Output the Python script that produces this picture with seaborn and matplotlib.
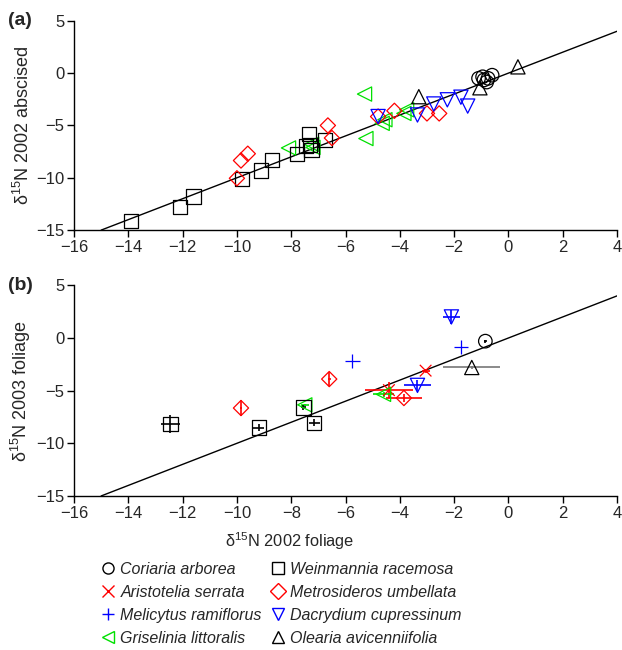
import matplotlib
matplotlib.use("Agg")
import pandas as pd
import matplotlib.pyplot as plt
import seaborn as sns
from matplotlib.lines import Line2D
from matplotlib.markers import MarkerStyle

# species, legend order (column-major, 2 columns)
species = ["Coriaria arborea", "Aristotelia serrata", "Melicytus ramiflorus",
           "Griselinia littoralis", "Weinmannia racemosa",
           "Metrosideros umbellata", "Dacrydium cupressinum",
           "Olearia avicenniifolia"]
markers = ["o", "x", "+", "<", "s", "D", "v", "^"]
colors = ["black", "red", "blue", "#00e000", "black", "red", "blue", "black"]
sizes = [95, 70, 110, 105, 105, 60, 105, 105]
err_colors = ["black", "red", "blue", "#00e000", "black", "red", "blue", "#777777"]

# panel (a): 2002 foliage vs 2002 abscised leaves
abs_species = (["Coriaria arborea"] * 6 + ["Weinmannia racemosa"] * 12
               + ["Metrosideros umbellata"] * 9 + ["Griselinia littoralis"] * 9
               + ["Dacrydium cupressinum"] * 6 + ["Olearia avicenniifolia"] * 3)
abs_foliage = [-1.1, -0.95, -0.9, -0.8, -0.75, -0.6,
               -13.9, -12.1, -11.6, -9.8, -9.1, -8.7, -7.8, -7.35, -7.45, -7.3, -7.25, -6.75,
               -10.0, -9.85, -9.6, -6.65, -6.5, -4.8, -4.2, -3.0, -2.55,
               -8.1, -7.25, -7.2, -5.3, -5.25, -4.65, -4.55, -3.85, -3.75,
               -4.8, -3.35, -2.75, -2.25, -1.75, -1.5,
               -3.3, 0.35, -1.05]
abs_abscised = [-0.5, -0.35, -0.65, -0.85, -0.5, -0.2,
                -14.1, -12.8, -11.8, -10.15, -9.3, -8.3, -7.75, -5.8, -6.95, -6.9, -7.35, -6.4,
                -10.05, -8.35, -7.7, -5.0, -6.2, -4.15, -3.6, -3.85, -3.85,
                -7.15, -6.8, -7.1, -2.0, -6.25, -4.8, -4.45, -3.85, -3.5,
                -4.15, -4.0, -2.95, -2.55, -2.3, -3.15,
                -2.25, 0.6, -1.4]

# panel (b): 2002 foliage vs 2003 foliage (species means with errors)
fol_species = ["Weinmannia racemosa", "Weinmannia racemosa", "Weinmannia racemosa",
               "Weinmannia racemosa", "Griselinia littoralis", "Metrosideros umbellata",
               "Metrosideros umbellata", "Melicytus ramiflorus", "Dacrydium cupressinum",
               "Melicytus ramiflorus", "Coriaria arborea", "Olearia avicenniifolia",
               "Aristotelia serrata", "Aristotelia serrata", "Griselinia littoralis",
               "Metrosideros umbellata", "Dacrydium cupressinum"]
fol_2002 = [-12.45, -9.2, -7.55, -7.15, -7.5, -9.85, -6.6, -5.75, -2.1,
            -1.75, -0.85, -1.35, -3.05, -4.4, -4.6, -3.85, -3.35]
fol_2003 = [-8.2, -8.5, -6.6, -8.05, -6.35, -6.65, -3.9, -2.2, 2.0,
            -0.85, -0.3, -2.8, -3.1, -4.95, -5.35, -5.7, -4.5]
fol_2002_err = [0.35, 0.2, 0.1, 0.2, 0.15, 0.05, 0.05, 0.0, 0.3,
                0.0, 0.05, 1.05, 0.15, 0.9, 0.4, 0.65, 0.5]
fol_2003_err = [0.85, 0.3, 0.2, 0.35, 0.1, 0.75, 0.7, 0.0, 0.7,
                0.0, 0.15, 0.1, 0.2, 0.75, 0.25, 0.35, 0.55]

abscised = pd.DataFrame(dict(species=abs_species, x=abs_foliage, y=abs_abscised))
foliage = pd.DataFrame(dict(species=fol_species, x=fol_2002, y=fol_2003,
                            xerr=fol_2002_err, yerr=fol_2003_err))

sns.set_style("ticks")
plt.rcParams["font.family"] = ["Liberation Sans", "DejaVu Sans"]
plt.rcParams["mathtext.fontset"] = "custom"
plt.rcParams["mathtext.rm"] = "Liberation Sans"
plt.rcParams["font.size"] = 12

fig = plt.figure(figsize=(6.22, 6.5), dpi=100)
ax_a = fig.add_axes([0.119, 0.646, 0.873, 0.322])
ax_b = fig.add_axes([0.119, 0.237, 0.873, 0.324])


def draw(ax, data, errors=False):
    for sp, m, c, s, ec in zip(species, markers, colors, sizes, err_colors):
        sub = data[data.species == sp]
        if sub.empty:
            continue
        if errors:
            ax.errorbar(sub.x, sub.y, xerr=sub.xerr, yerr=sub.yerr, fmt="none",
                        ecolor=ec, elinewidth=1.2, capsize=0, zorder=2)
        sns.scatterplot(data=sub, x="x", y="y", ax=ax, legend=False,
                        marker=MarkerStyle(m, fillstyle="none"), color=c,
                        s=s, linewidth=0.9, zorder=3)
    ax.axline((0, 0), slope=1, color="black", lw=1, zorder=1)
    ax.set_xlim(-16, 4)
    ax.set_ylim(-15, 5)
    ax.set_xticks(range(-16, 5, 2))
    ax.set_yticks(range(-15, 6, 5))
    ax.set_xlabel("")
    ax.tick_params(direction="out", length=5, width=1, labelsize=12,
                   color="black", pad=2)
    for sp_name in ["left", "bottom"]:
        ax.spines[sp_name].set_linewidth(1)
        ax.spines[sp_name].set_color("black")
    sns.despine(ax=ax)


draw(ax_a, abscised)
draw(ax_b, foliage, errors=True)

ax_a.set_ylabel(r"δ$^{15}$N 2002 abscised", fontsize=13)
ax_b.set_ylabel(r"δ$^{15}$N 2003 foliage", fontsize=13)
ax_a.yaxis.set_label_coords(-0.075, 0.5)
ax_b.yaxis.set_label_coords(-0.075, 0.5)

fig.text(0.013, 0.969, "(a)", fontsize=14, fontweight="bold", va="center")
fig.text(0.013, 0.561, "(b)", fontsize=14, fontweight="bold", va="center")
fig.text(290 / 622, 1 - 541 / 650, r"δ$^{15}$N 2002 foliage", fontsize=11.8,
         ha="center", va="center")

handles = [Line2D([], [], marker=m, color=c, linestyle="none",
                  markerfacecolor="none", markersize=8, markeredgewidth=1)
           for m, c in zip(markers, colors)]
fig.legend(handles, species, loc="upper left",
           bbox_to_anchor=(94 / 622, 1 - 554 / 650), ncol=2, frameon=False,
           prop=dict(style="italic", size=11.5), handlelength=0.8,
           handletextpad=0.35, columnspacing=0.6, labelspacing=0.5,
           borderpad=0)

fig.savefig("out.png", dpi=100)
